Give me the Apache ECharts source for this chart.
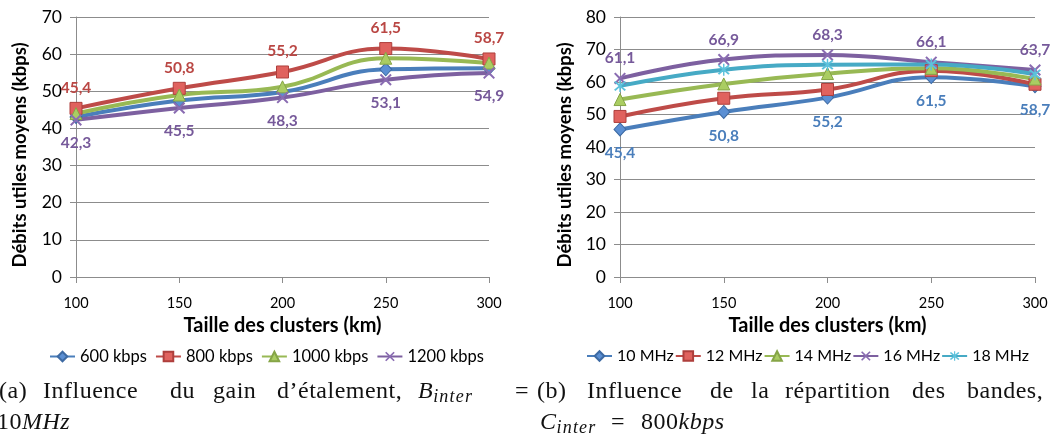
<!DOCTYPE html>
<html>
<head>
<meta charset="utf-8">
<script src="https://cdn.jsdelivr.net/npm/echarts@6/dist/echarts.min.js"></script>
<style>
  html, body { margin: 0; padding: 0; width: 1058px; height: 436px; overflow: hidden; background: #fff; }
  #chart { position: absolute; left: 0; top: 0; width: 1058px; height: 436px; }
  .w { position: absolute; font-family: "Liberation Serif", "DejaVu Serif", serif; font-size: 24px; line-height: 24px; letter-spacing: 0.5px; color: #111; white-space: nowrap; }
  .w sub { font-size: 18px; vertical-align: -4px; line-height: 0; letter-spacing: 1.2px; }
  .l1 { top: 378px; }
  .l2 { top: 409px; }
</style>
</head>
<body>
<div id="chart"></div>
<!-- caption (a) -->
<span class="w l1" style="left:-1px">(a)</span>
<span class="w l1" style="left:43px">Influence</span>
<span class="w l1" style="left:170px">du</span>
<span class="w l1" style="left:213px">gain</span>
<span class="w l1" style="left:277px">d’étalement,</span>
<span class="w l1" style="left:418px"><i>B</i><sub><i>inter</i></sub></span>
<span class="w l1" style="left:515px">=</span>
<span class="w l2" style="left:-3px">10<i>MHz</i></span>
<!-- caption (b) -->
<span class="w l1" style="left:537px">(b)</span>
<span class="w l1" style="left:587px">Influence</span>
<span class="w l1" style="left:710px">de</span>
<span class="w l1" style="left:751px">la</span>
<span class="w l1" style="left:785px">répartition</span>
<span class="w l1" style="left:912px">des</span>
<span class="w l1" style="left:967px">bandes,</span>
<span class="w l2" style="left:540px"><i>C</i><sub><i>inter</i></sub></span>
<span class="w l2" style="left:611px">=</span>
<span class="w l2" style="left:641px">800<i>kbps</i></span>
<script>
// ---- data ----
const categories = ['100', '150', '200', '250', '300'];
const xTitle = 'Taille des clusters (km)';
const yTitle = 'Débits utiles moyens (kbps)';

// (a) spreading gain
const namesA = ['600 kbps', '800 kbps', '1000 kbps', '1200 kbps'];
const a600  = [43.1, 47.5, 49.8, 55.9, 56.2];
const a800  = [45.4, 50.8, 55.2, 61.5, 58.7];
const a1000 = [44.0, 49.0, 51.2, 58.9, 57.6];
const a1200 = [42.3, 45.5, 48.3, 53.1, 54.9];

// (b) band split
const namesB = ['10 MHz', '12 MHz', '14 MHz', '16 MHz', '18 MHz'];
const b10 = [45.4, 50.8, 55.2, 61.5, 58.7];
const b12 = [49.4, 55.0, 57.7, 63.5, 59.3];
const b14 = [54.6, 59.4, 62.6, 64.2, 60.9];
const b16 = [61.1, 66.9, 68.3, 66.1, 63.7];
const b18 = [58.8, 63.8, 65.3, 65.4, 62.4];

const yMaxA = 70, yMaxB = 80, yStep = 10;

// ---- styles ----
const FONT = 'Lato';
const C = {
  blue:   { line: '#4A7EBB', fill: '#5B8FD3', border: '#3D6AA3', text: '#4A7EBB' },
  red:    { line: '#BE4B48', fill: '#E0625E', border: '#AE3F3C', text: '#BA4744' },
  green:  { line: '#98B954', fill: '#AACD62', border: '#86A547', text: '#98B954' },
  purple: { line: '#7D60A0', fill: '#8A6CB2', border: '#7D60A0', text: '#76599A' },
  cyan:   { line: '#46AAC5', fill: '#5CC2DC', border: '#46AAC5', text: '#46AAC5' }
};
const X_PATH = 'path://M0,1.2L1.2,0L5,3.8L8.8,0L10,1.2L6.2,5L10,8.8L8.8,10L5,6.2L1.2,10L0,8.8L3.8,5Z';
const AST_PATH = 'path://M0,1.2L1.2,0L5,3.8L8.8,0L10,1.2L6.2,5L10,8.8L8.8,10L5,6.2L1.2,10L0,8.8L3.8,5Z M4.4,-1L5.6,-1L5.6,11L4.4,11Z';
const SYM = {
  diamond:  { symbol: 'diamond', size: [12, 13] },
  square:   { symbol: 'rect', size: 12 },
  triangle: { symbol: 'triangle', size: [12, 12] },
  cross:    { symbol: X_PATH, size: 12 },
  star:     { symbol: AST_PATH, size: 12 }
};

function fmt(p) { return String(p.value).replace('.', ','); }

function mkSeries(name, data, idx, col, sym, labelPos) {
  const s = {
    name: name, type: 'line', data: data,
    xAxisIndex: idx, yAxisIndex: idx,
    smooth: 0.45,
    symbol: sym.symbol, symbolSize: sym.size, showAllSymbol: true,
    lineStyle: { color: col.line, width: 4 },
    itemStyle: { color: col.fill, borderColor: col.border, borderWidth: (sym === SYM.cross || sym === SYM.star) ? 0 : 1 },
    emphasis: { disabled: true },
    animation: false,
    label: { show: false }
  };
  if (labelPos) {
    s.label = {
      show: true, position: labelPos, distance: labelPos === 'top' ? 6 : 9,
      formatter: fmt, color: col.text, fontFamily: FONT, fontWeight: 'bold', fontSize: 15.5
    };
  }
  return s;
}

const axisGray = '#8C8C8C';
function xAx(gi) {
  return {
    type: 'category', gridIndex: gi, data: categories, boundaryGap: false,
    axisLine: { lineStyle: { color: axisGray, width: 1 } },
    axisTick: { show: true, length: 6, lineStyle: { color: axisGray } },
    axisLabel: { color: '#000', fontFamily: FONT, fontSize: 14.5, margin: 19 },
    splitLine: { show: false },
    name: xTitle, nameLocation: 'middle', nameGap: 38,
    nameTextStyle: { color: '#000', fontFamily: FONT, fontWeight: 'bold', fontSize: 20 }
  };
}
function yAx(gi, max) {
  return {
    type: 'value', gridIndex: gi, min: 0, max: max, interval: yStep,
    axisLine: { show: true, lineStyle: { color: axisGray, width: 1 } },
    axisTick: { show: true, length: 6, inside: false, lineStyle: { color: axisGray } },
    axisLabel: { color: '#000', fontFamily: FONT, fontSize: 17.5, margin: 14 },
    splitLine: { show: true, lineStyle: { color: axisGray, width: 1 } }
  };
}

const option = {
  backgroundColor: '#fff',
  animation: false,
  grid: [
    { left: 76, right: 569, top: 17, bottom: 159 },
    { left: 620, right: 23, top: 17, bottom: 159 }
  ],
  xAxis: [xAx(0), xAx(1)],
  yAxis: [yAx(0, yMaxA), yAx(1, yMaxB)],
  legend: [
    { data: namesA, left: 44, top: 343, itemWidth: 25, itemHeight: 12, itemGap: 8,
      textStyle: { fontFamily: FONT, fontSize: 16.5, color: '#000' } },
    { data: namesB, left: 581, top: 343, itemWidth: 25, itemHeight: 12, itemGap: 1,
      textStyle: { fontFamily: FONT, fontSize: 16, color: '#000' } }
  ],
  graphic: [
    { type: 'text', x: 20, y: 155, rotation: Math.PI / 2,
      style: { text: yTitle, fill: '#000', font: 'bold 18.5px ' + FONT, textAlign: 'center', textVerticalAlign: 'middle' } },
    { type: 'text', x: 565, y: 155, rotation: Math.PI / 2,
      style: { text: yTitle, fill: '#000', font: 'bold 18.5px ' + FONT, textAlign: 'center', textVerticalAlign: 'middle' } }
  ],
  series: [
    mkSeries(namesA[0], a600, 0, C.blue, SYM.diamond, null),
    mkSeries(namesA[1], a800, 0, C.red, SYM.square, 'top'),
    mkSeries(namesA[2], a1000, 0, C.green, SYM.triangle, null),
    mkSeries(namesA[3], a1200, 0, C.purple, SYM.cross, 'bottom'),
    mkSeries(namesB[0], b10, 1, C.blue, SYM.diamond, 'bottom'),
    mkSeries(namesB[1], b12, 1, C.red, SYM.square, null),
    mkSeries(namesB[2], b14, 1, C.green, SYM.triangle, null),
    mkSeries(namesB[3], b16, 1, C.purple, SYM.cross, 'top'),
    mkSeries(namesB[4], b18, 1, C.cyan, SYM.star, null)
  ]
};

const chart = echarts.init(document.getElementById('chart'), null, { renderer: 'canvas', width: 1058, height: 436 });
chart.setOption(option);
</script>
</body>
</html>
